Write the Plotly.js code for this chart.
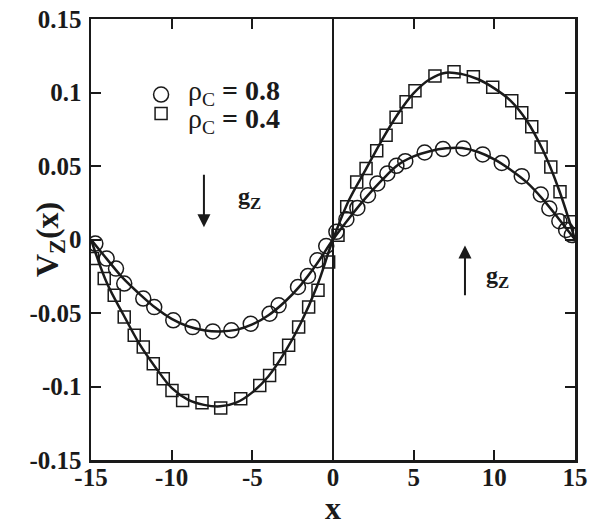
<!DOCTYPE html>
<html>
<head>
<meta charset="utf-8">
<script src="https://cdn.plot.ly/plotly-3.0.1.min.js"></script>
<style>
html,body{margin:0;padding:0;background:#fff;}
#chart{width:600px;height:528px;}
</style>
</head>
<body>
<div id="chart"></div>
<script>
// ---- data ----
const circX = [-14.73,-14.03,-13.45,-12.94,-11.76,-11.08,-9.90,-8.70,-7.45,-6.30,-5.10,-3.93,-3.37,-2.17,-1.55,-0.97,-0.42,
               0.21,0.83,1.51,2.17,2.75,3.37,3.93,4.48,5.68,6.82,8.08,9.28,10.46,11.70,12.88,13.41,14.03,14.45,14.80];
const circY = [-0.0028,-0.0130,-0.0198,-0.0300,-0.0402,-0.0460,-0.0550,-0.0596,-0.0625,-0.0618,-0.0573,-0.0505,-0.0448,-0.0323,-0.0248,-0.0141,-0.0044,
               0.0052,0.0138,0.0215,0.0301,0.0381,0.0449,0.0501,0.0533,0.0592,0.0615,0.0619,0.0579,0.0521,0.0431,0.0306,0.0211,0.0124,0.0065,0.0030];

const sqX = [-14.90,-14.18,-13.56,-12.94,-12.32,-11.76,-11.14,-10.52,-9.98,-9.32,-8.12,-6.96,-5.72,-4.54,-3.93,-3.31,-2.75,-2.13,-1.51,-0.93,-0.27,
             0.31,0.85,1.47,2.05,2.71,3.29,3.91,4.53,5.08,6.32,7.50,8.70,9.90,11.08,11.70,12.32,12.90,13.50,14.07,14.69];
const sqY = [-0.0130,-0.0266,-0.0380,-0.0527,-0.0652,-0.0732,-0.0845,-0.0947,-0.1027,-0.1095,-0.1111,-0.1147,-0.1084,-0.0993,-0.0925,-0.0811,-0.0720,-0.0596,-0.0459,-0.0346,-0.0153,
             0.0029,0.0222,0.0392,0.0483,0.0603,0.0710,0.0831,0.0937,0.1012,0.1112,0.1141,0.1107,0.1035,0.0944,0.0862,0.0767,0.0630,0.0494,0.0324,0.0120];

// fitted curves
const fitX = [-15,-14,-13,-12,-11,-10,-9,-8,-7,-6,-5,-4,-3,-2,-1,0,1,2,3,4,5,6,7,8,9,10,11,12,13,14,15];
const fitCirc = [0,-0.0135,-0.0265,-0.0370,-0.0465,-0.0540,-0.0590,-0.0617,-0.0625,-0.0615,-0.0578,-0.0515,-0.0425,-0.0310,-0.0165,0,
                 0.0145,0.0280,0.0400,0.0505,0.0565,0.0600,0.0620,0.0622,0.0595,0.0545,0.0475,0.0390,0.0275,0.0140,0];
const fitSq = [0,-0.0300,-0.0510,-0.0710,-0.0870,-0.1010,-0.1090,-0.1125,-0.1135,-0.1110,-0.1040,-0.0930,-0.0770,-0.0570,-0.0320,0,
               0.0270,0.0470,0.0670,0.0850,0.0995,0.1090,0.1135,0.1125,0.1090,0.1028,0.0945,0.0810,0.0610,0.0340,0];

const xTickVals = [-15,-10,-5,0,5,10,15];
const xTickText = ["-15","-10","-5","0","5","10","15"];
const yTickVals = [-0.15,-0.1,-0.05,0,0.05,0.1,0.15];
const yTickText = ["-0.15","-0.1","-0.05","0","0.05","0.1","0.15"];

const seriesLabels = ["ρ<sub>C</sub> <b>= 0.8</b>", "ρ<sub>C</sub> <b>= 0.4</b>"];

// arrows: [tailX, tailY, headX, headY]
const arrowDown = [-8.0, 0.045, -8.0, 0.0083];
const arrowUp = [8.18, -0.039, 8.18, -0.004];
const gLabels = [[-5.15, 0.028], [10.2, -0.0255]];

// ---- drawing ----
const serif = "Liberation Serif, Times New Roman, serif";
const ink = '#1a1a1a';
const traces = [
  {x: fitX, y: fitCirc, mode: 'lines', line: {color: ink, width: 2.5, shape: 'spline', smoothing: 1}, showlegend: false, hoverinfo: 'skip'},
  {x: fitX, y: fitSq, mode: 'lines', line: {color: ink, width: 2.5, shape: 'spline', smoothing: 1}, showlegend: false, hoverinfo: 'skip'},
  {x: circX, y: circY, mode: 'markers', name: ' ',
   marker: {symbol: 'circle-open', size: 15, color: ink, line: {width: 1.5, color: ink}}},
  {x: sqX, y: sqY, mode: 'markers', name: ' ',
   marker: {symbol: 'square-open', size: 12, color: ink, line: {width: 1.5, color: ink}}}
];

const axisCommon = {
  showgrid: false, showline: true, linecolor: ink, linewidth: 2.5, mirror: 'ticks',
  ticks: 'inside', ticklen: 10, tickwidth: 2, tickcolor: ink,
  tickfont: {family: serif, size: 25, color: ink, weight: 700}
};

const layout = {
  width: 600, height: 528,
  margin: {l: 91, r: 25, t: 19, b: 68},
  paper_bgcolor: '#fff', plot_bgcolor: '#fff',
  showlegend: true,
  legend: {x: 0.089, y: 0.8615, xanchor: 'left', yanchor: 'top', bgcolor: 'rgba(0,0,0,0)',
           itemwidth: 44, font: {family: serif, size: 12, color: ink}, tracegroupgap: 0},
  xaxis: Object.assign({}, axisCommon, {
    range: [-15, 15], tickmode: 'array', tickvals: xTickVals, ticktext: xTickText,
    zeroline: true, zerolinecolor: ink, zerolinewidth: 2,
    ticklabelstandoff: -7,
    title: {text: 'x', font: {family: serif, size: 32, color: ink, weight: 700}, standoff: 6}
  }),
  yaxis: Object.assign({}, axisCommon, {
    range: [-0.15, 0.15], tickmode: 'array', tickvals: yTickVals, ticktext: yTickText,
    zeroline: false, ticklabelstandoff: 2
  }),
  annotations: [
    {xref: 'x', yref: 'y', axref: 'x', ayref: 'y', x: arrowDown[2], y: arrowDown[3], ax: arrowDown[0], ay: arrowDown[1],
     showarrow: true, arrowhead: 2, arrowsize: 1.3, arrowwidth: 2, arrowcolor: ink, text: ''},
    {xref: 'x', yref: 'y', axref: 'x', ayref: 'y', x: arrowUp[2], y: arrowUp[3], ax: arrowUp[0], ay: arrowUp[1],
     showarrow: true, arrowhead: 2, arrowsize: 1.3, arrowwidth: 2, arrowcolor: ink, text: ''},
    {xref: 'x', yref: 'y', x: gLabels[0][0], y: gLabels[0][1], showarrow: false,
     text: '<b>g<sub>Z</sub></b>', font: {family: serif, size: 24, color: ink}},
    {xref: 'x', yref: 'y', x: gLabels[1][0], y: gLabels[1][1], showarrow: false,
     text: '<b>g<sub>Z</sub></b>', font: {family: serif, size: 24, color: ink}},
    {xref: 'paper', yref: 'paper', x: 0.196, y: 0.834, xanchor: 'left', yanchor: 'middle', showarrow: false,
     text: seriesLabels[0], font: {family: serif, size: 28, color: ink}},
    {xref: 'paper', yref: 'paper', x: 0.196, y: 0.770, xanchor: 'left', yanchor: 'middle', showarrow: false,
     text: seriesLabels[1], font: {family: serif, size: 28, color: ink}},
    {xref: 'paper', yref: 'paper', x: -0.132, y: 0.5, showarrow: false, textangle: -90,
     text: '<b>V<sub>Z</sub>(x)</b>', font: {family: serif, size: 32, color: ink}}
  ]
};

Plotly.newPlot('chart', traces, layout, {displayModeBar: false, staticPlot: true});
</script>
</body>
</html>
